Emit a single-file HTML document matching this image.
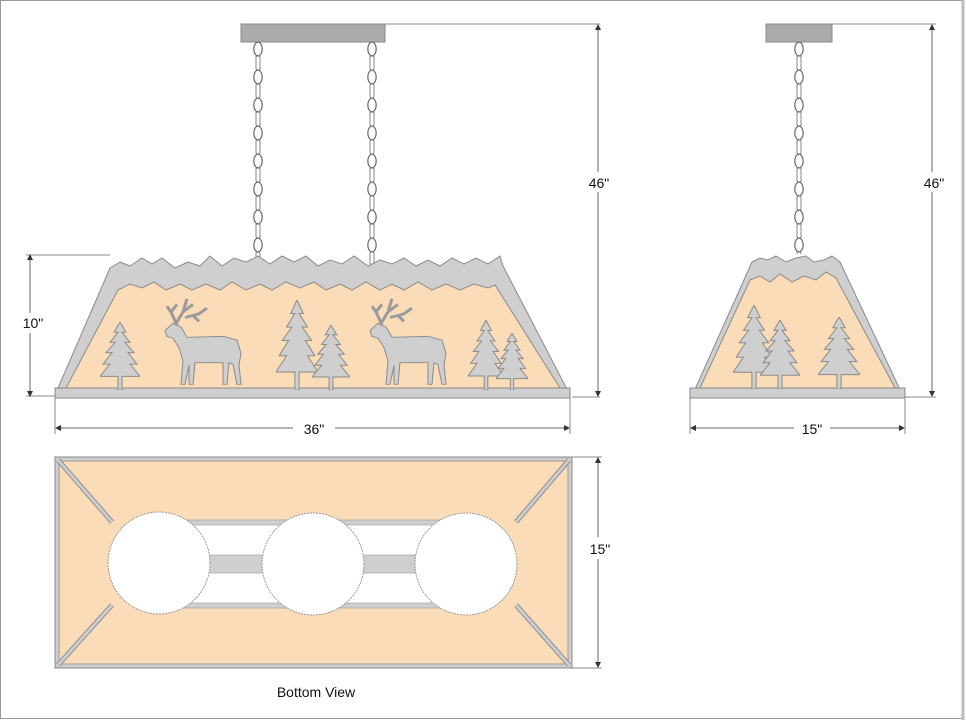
<!DOCTYPE html>
<html><head><meta charset="utf-8"><style>
html,body{margin:0;padding:0;background:#fff}
svg{display:block}
text{font-family:"Liberation Sans",sans-serif;fill:#111}
</style></head><body>
<svg width="966" height="720" viewBox="0 0 966 720" xmlns="http://www.w3.org/2000/svg">
<defs>
<g id="link">
<ellipse cx="6" cy="7" rx="4.2" ry="6.8" fill="#fff" stroke="#666" stroke-width="1.2"/>
<rect x="4" y="14" width="4" height="14" rx="1.5" fill="#fff" stroke="#777" stroke-width="0.9"/>
</g>
<pattern id="chainA" x="252" y="42" width="12" height="28" patternUnits="userSpaceOnUse"><use href="#link"/></pattern>
<pattern id="chainB" x="366" y="42" width="12" height="28" patternUnits="userSpaceOnUse"><use href="#link"/></pattern>
<pattern id="chainC" x="793" y="42" width="12" height="28" patternUnits="userSpaceOnUse"><use href="#link"/></pattern>
<symbol id="tree" viewBox="0 0 40 100" preserveAspectRatio="none">
<polygon points="20,0 26,15 22,15 30,30 25,30 34,45 28,45 37,62 30,62 40,80 22,80 22,100 18,100 18,80 0,80 10,62 3,62 12,45 6,45 15,30 10,30 18,15 14,15" fill="#cfcfcf" stroke="#8a8a8a" stroke-width="1" vector-effect="non-scaling-stroke"/>
</symbol>
<symbol id="elk" viewBox="0 0 80 100" preserveAspectRatio="none">
<g fill="#cfcfcf" stroke="#8a8a8a" stroke-width="1" vector-effect="non-scaling-stroke">
<path d="M2,38 L10,30 L18,34 L24,45 L60,44 L74,48 L78,62 L76,74 L78,95 L74,95 L70,74 L66,72 L64,95 L60,95 L60,72 L32,72 L30,95 L26,95 L26,75 L22,95 L18,95 L20,70 L16,56 L10,46 L4,44 Z"/>
</g>
<g fill="none" stroke="#9a9a9a" stroke-width="3">
<path d="M14,32 L8,18 L4,12 M8,18 L14,10 M12,32 L20,18 L24,4 M20,18 L30,10 M22,24 L36,20 L44,14 M30,22 L36,28"/>
</g>
</symbol>
</defs>
<rect x="0.5" y="0.5" width="962" height="718" fill="#fff" stroke="#9a9a9a"/>
<line x1="963" y1="0" x2="963" y2="720" stroke="#bbb" stroke-width="3"/>

<!-- main fixture -->
<line x1="385" y1="24" x2="600" y2="24" stroke="#888"/>
<rect x="241" y="24" width="144" height="18" fill="#ababab" stroke="#888"/>
<rect x="252" y="42" width="12" height="222" fill="url(#chainA)"/>
<rect x="366" y="42" width="12" height="222" fill="url(#chainB)"/>
<path d="M110,268 L120,262 L130,266 L142,258 L152,264 L162,258 L175,268 L188,262 L200,266 L210,256 L222,266 L234,258 L246,262 L258,256 L270,264 L282,256 L294,262 L306,256 L318,266 L330,260 L342,264 L354,256 L368,266 L380,260 L392,264 L404,258 L416,266 L428,260 L440,266 L452,258 L464,264 L476,258 L488,264 L500,256 L503,266 L570,395 L55,395 Z" fill="#cfcfcf" stroke="#8a8a8a"/>
<path d="M118,290 L130,284 L142,288 L154,282 L166,290 L180,284 L192,290 L206,284 L220,290 L232,282 L246,290 L260,284 L272,290 L286,282 L300,288 L314,282 L326,290 L340,284 L352,290 L366,282 L380,290 L392,284 L404,290 L418,282 L432,290 L446,284 L460,290 L474,284 L488,288 L495,285 L560,388 L66,388 Z" fill="#fbdcb8" stroke="#8a8a8a"/>
<rect x="55" y="388" width="515" height="10" fill="#cfcfcf" stroke="#8a8a8a"/>
<use href="#tree" x="100" y="322" width="40" height="68"/>
<use href="#elk" x="163" y="295" width="80" height="94"/>
<use href="#tree" x="276" y="300" width="42" height="90"/>
<use href="#tree" x="312" y="325" width="38" height="65"/>
<use href="#elk" x="368" y="295" width="80" height="94"/>
<use href="#tree" x="468" y="320" width="36" height="70"/>
<use href="#tree" x="496" y="333" width="32" height="57"/>

<!-- dims main -->
<line x1="598" y1="26" x2="598" y2="395" stroke="#666"/>
<polygon points="595,30 601,30 598,24" fill="#333"/><polygon points="595,391 601,391 598,397" fill="#333"/>
<line x1="572" y1="397" x2="600" y2="397" stroke="#888"/>
<rect x="585" y="172" width="28" height="20" fill="#fff"/>
<text x="599" y="188" font-size="14" text-anchor="middle">46"</text>
<line x1="30" y1="255" x2="30" y2="395" stroke="#666"/>
<line x1="26" y1="255" x2="110" y2="255" stroke="#888"/>
<line x1="26" y1="396" x2="55" y2="396" stroke="#888"/>
<polygon points="27,260 33,260 30,254" fill="#333"/><polygon points="27,391 33,391 30,397" fill="#333"/>
<rect x="16" y="313" width="30" height="20" fill="#fff"/>
<text x="33" y="328" font-size="14" text-anchor="middle">10"</text>
<line x1="55" y1="398" x2="55" y2="434" stroke="#888"/>
<line x1="570" y1="398" x2="570" y2="434" stroke="#888"/>
<line x1="56" y1="428" x2="569" y2="428" stroke="#666"/>
<polygon points="61,425 61,431 55,428" fill="#333"/><polygon points="564,425 564,431 570,428" fill="#333"/>
<rect x="293" y="418" width="42" height="20" fill="#fff"/>
<text x="314" y="434" font-size="14" text-anchor="middle">36"</text>

<!-- bottom view -->
<rect x="55" y="457" width="517" height="211" fill="#cfcfcf" stroke="#888"/>
<rect x="59" y="461" width="509" height="203" fill="#fbdcb8" stroke="#999"/>
<g stroke="#999" stroke-width="5"><line x1="58" y1="460" x2="112" y2="522"/><line x1="58" y1="665" x2="112" y2="605"/><line x1="569" y1="460" x2="516" y2="522"/><line x1="569" y1="665" x2="516" y2="605"/></g>
<g stroke="#d0d0d0" stroke-width="2.5"><line x1="58" y1="460" x2="112" y2="522"/><line x1="58" y1="665" x2="112" y2="605"/><line x1="569" y1="460" x2="516" y2="522"/><line x1="569" y1="665" x2="516" y2="605"/></g>
<rect x="180" y="520" width="270" height="86" fill="#fff"/>
<rect x="180" y="520" width="270" height="5" fill="#cfcfcf" stroke="#999" stroke-width="0.6"/>
<rect x="180" y="603" width="270" height="5" fill="#cfcfcf" stroke="#999" stroke-width="0.6"/>
<rect x="198" y="555" width="70" height="18" fill="#cfcfcf" stroke="#999" stroke-width="0.6"/>
<rect x="352" y="555" width="70" height="18" fill="#cfcfcf" stroke="#999" stroke-width="0.6"/>
<g fill="#fff" stroke="#999" stroke-dasharray="2,1"><circle cx="159" cy="563" r="51"/><circle cx="313" cy="564" r="51"/><circle cx="466" cy="564" r="51"/></g>
<line x1="572" y1="457" x2="602" y2="457" stroke="#888"/>
<line x1="572" y1="668" x2="602" y2="668" stroke="#888"/>
<line x1="598" y1="459" x2="598" y2="666" stroke="#666"/>
<polygon points="595,463 601,463 598,457" fill="#333"/><polygon points="595,662 601,662 598,668" fill="#333"/>
<rect x="585" y="537" width="30" height="22" fill="#fff"/>
<text x="600" y="554" font-size="14" text-anchor="middle">15"</text>
<text x="316" y="697" font-size="14" text-anchor="middle">Bottom View</text>

<!-- side fixture -->
<line x1="832" y1="24" x2="936" y2="24" stroke="#888"/>
<rect x="766" y="24" width="66" height="18" fill="#ababab" stroke="#888"/>
<rect x="793" y="42" width="12" height="212" fill="url(#chainC)"/>
<path d="M752,262 L760,258 L768,260 L776,256 L786,262 L796,258 L806,256 L814,262 L824,260 L832,256 L840,262 L903,396 L692,396 Z" fill="#cfcfcf" stroke="#8a8a8a"/>
<path d="M750,280 L760,276 L770,282 L780,274 L792,282 L804,276 L816,280 L826,272 L836,278 L895,388 L700,388 Z" fill="#fbdcb8" stroke="#8a8a8a"/>
<rect x="690" y="388" width="215" height="10" fill="#cfcfcf" stroke="#8a8a8a"/>
<use href="#tree" x="733" y="305" width="42" height="84"/>
<use href="#tree" x="760" y="320" width="40" height="69"/>
<use href="#tree" x="818" y="317" width="42" height="72"/>
<line x1="932" y1="26" x2="932" y2="395" stroke="#666"/>
<polygon points="929,30 935,30 932,24" fill="#333"/><polygon points="929,391 935,391 932,397" fill="#333"/>
<line x1="905" y1="397" x2="936" y2="397" stroke="#888"/>
<rect x="918" y="172" width="30" height="20" fill="#fff"/>
<text x="934" y="188" font-size="14" text-anchor="middle">46"</text>
<line x1="690" y1="398" x2="690" y2="434" stroke="#888"/>
<line x1="905" y1="398" x2="905" y2="434" stroke="#888"/>
<line x1="691" y1="428" x2="904" y2="428" stroke="#666"/>
<polygon points="696,425 696,431 690,428" fill="#333"/><polygon points="899,425 899,431 905,428" fill="#333"/>
<rect x="794" y="418" width="36" height="20" fill="#fff"/>
<text x="812" y="434" font-size="14" text-anchor="middle">15"</text>
</svg>
</body></html>
